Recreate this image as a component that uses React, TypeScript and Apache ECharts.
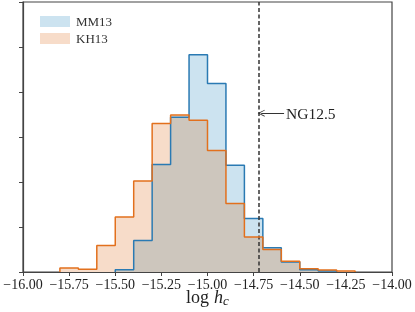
import React, { useEffect, useRef } from "react";
import * as echarts from "echarts";

// Histogram bin edges (log h_c)
const binEdges = [
  -15.8, -15.7, -15.6, -15.5, -15.4, -15.3, -15.2, -15.1, -15.0,
  -14.9, -14.8, -14.7, -14.6, -14.5, -14.4, -14.3, -14.2,
];
// Densities per bin (in units of the y tick spacing)
const mm13 = [0, 0, 0, 0.05, 0.7, 2.39, 3.44, 4.83, 4.19, 2.37, 1.19, 0.54, 0.22, 0.05, 0.02, 0];
const kh13 = [0.09, 0.06, 0.59, 1.22, 2.02, 3.3, 3.49, 3.37, 2.7, 1.52, 0.78, 0.5, 0.24, 0.075, 0.044, 0.02];
const seriesNames = ["MM13", "KH13"];
const ng125Value = -14.717;
const ng125Label = "NG12.5";
const xTicks = { min: -16, max: -14, interval: 0.25 };

const FONT = "'Liberation Serif', 'DejaVu Serif', serif";
const BLUE_FILL = "#cce3f0";
const ORANGE_FILL = "#f7dcc9";
const OVERLAP_FILL = "#cdc6bd";
const BLUE_LINE = "#2a7ab3";
const ORANGE_LINE = "#e2701d";

function stepData(values: number[]): number[][] {
  let i0 = values.findIndex((v) => v > 0);
  let i1 = values.length - 1;
  while (i1 > 0 && !(values[i1] > 0)) i1--;
  const pts: number[][] = [[binEdges[i0], 0]];
  for (let i = i0; i <= i1; i++) pts.push([binEdges[i], values[i]]);
  pts.push([binEdges[i1 + 1], 0]);
  return pts;
}

export default function App() {
  const ref = useRef<HTMLDivElement>(null);
  useEffect(() => {
    if (!ref.current) return;
    const chart = echarts.init(ref.current, undefined, { renderer: "svg" });
    const overlap = mm13.map((v, i) => Math.min(v, kh13[i]));
    const fillSeries = (name: string, values: number[], color: string, z: number) => ({
      type: "line",
      name,
      step: "end",
      data: stepData(values),
      symbol: "none",
      silent: true,
      z,
      lineStyle: { width: 0, opacity: 0 },
      areaStyle: { color, opacity: 1 },
    });
    const lineSeries = (name: string, values: number[], color: string, z: number, extra: any = {}) => ({
      type: "line",
      name,
      step: "end",
      data: stepData(values),
      symbol: "none",
      silent: true,
      z,
      lineStyle: { width: 1.5, color },
      itemStyle: { color },
      ...extra,
    });
    const axisColor = "#444";
    chart.setOption({
      animation: false,
      grid: {
        left: 23,
        right: 23,
        top: 2,
        bottom: 40,
        containLabel: false,
        outerBoundsMode: "none",
        show: true,
        borderColor: axisColor,
        borderWidth: 1.2,
      },
      legend: {
        orient: "vertical",
        left: 35,
        top: 10,
        itemGap: 4,
        itemWidth: 30,
        itemHeight: 11,
        icon: "rect",
        selectedMode: false,
        textStyle: { fontFamily: FONT, fontSize: 13, color: "#333", padding: [0, 0, 0, 1] },
        data: [
          { name: seriesNames[0], icon: "rect", itemStyle: { color: BLUE_FILL, borderWidth: 0 } },
          { name: seriesNames[1], icon: "rect", itemStyle: { color: ORANGE_FILL, borderWidth: 0 } },
        ],
      },
      xAxis: {
        type: "value",
        min: xTicks.min,
        max: xTicks.max,
        interval: xTicks.interval,
        z: 10,
        axisLine: { show: true, lineStyle: { color: axisColor, width: 1.2 } },
        axisTick: { show: true, inside: false, length: 4, lineStyle: { color: axisColor, width: 1 } },
        splitLine: { show: false },
        axisLabel: {
          margin: 5,
          fontFamily: FONT,
          fontSize: 14,
          lineHeight: 14,
          color: "#222",
          formatter: (v: number) => (v < 0 ? "\u2212" : "") + Math.abs(v).toFixed(2),
        },
        name: "{a|log}{b|h}{c|c}",
        nameLocation: "middle",
        nameGap: 17,
        nameMoveOverlap: false,
        nameTextStyle: {
          rich: {
            a: { fontFamily: FONT, fontSize: 18, lineHeight: 16, color: "#222", padding: [0, 5, 0, 0] },
            b: { fontFamily: FONT, fontSize: 18, lineHeight: 16, fontStyle: "italic", color: "#222" },
            c: { fontFamily: FONT, fontSize: 13, lineHeight: 13, fontStyle: "italic", color: "#222", padding: [6, 0, 0, 0] },
          },
        },
      },
      yAxis: {
        type: "value",
        min: 0,
        max: 6,
        interval: 1,
        z: 10,
        axisLine: { show: true, lineStyle: { color: axisColor, width: 1.2 } },
        axisTick: { show: true, inside: false, length: 4, lineStyle: { color: axisColor, width: 1 } },
        axisLabel: { show: false },
        splitLine: { show: false },
      },
      series: [
        fillSeries(seriesNames[0], mm13, BLUE_FILL, 1),
        fillSeries(seriesNames[1], kh13, ORANGE_FILL, 2),
        fillSeries("overlap", overlap, OVERLAP_FILL, 3),
        lineSeries("MM13 line", mm13, BLUE_LINE, 4),
        lineSeries("KH13 line", kh13, ORANGE_LINE, 5, {
          markLine: {
            silent: true,
            symbol: ["none", "none"],
            animation: false,
            data: [
              {
                xAxis: ng125Value,
                lineStyle: { type: [4, 2.5], color: "#333", width: 1.5 },
                label: { show: false },
              },
              [
                {
                  coord: [ng125Value + 0.008, 3.53],
                  symbol: "path://M0,10 L5,0 L10,10 L8.8,10 L5,2.6 L1.2,10 Z",
                  symbolSize: [7, 7],
                  lineStyle: { type: "solid", color: "#333", width: 1 },
                  label: {
                    show: true,
                    position: "end",
                    formatter: ng125Label,
                    fontFamily: FONT,
                    fontSize: 15.5,
                    color: "#222",
                    distance: 2,
                  },
                },
                { coord: [-14.585, 3.53], symbol: "none" },
              ],
            ],
          },
        }),
      ],
    });
    return () => chart.dispose();
  }, []);
  return (
    <div
      ref={ref}
      style={{ position: "fixed", left: 0, top: 0, width: 415, height: 312 }}
    />
  );
}
